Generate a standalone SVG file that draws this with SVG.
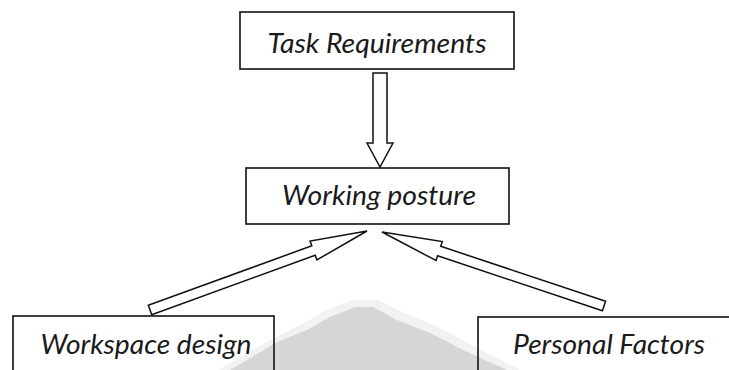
<svg xmlns="http://www.w3.org/2000/svg" width="729" height="370" viewBox="0 0 729 370">
<style>
.box{fill:none;stroke:#111;stroke-width:1.6}
.lbl{font-family:Lato,"Open Sans","Liberation Sans",sans-serif;font-style:italic;font-size:27px;fill:#1a1a1a;text-anchor:middle}
.arr{fill:#fff;stroke:#111;stroke-width:1.5;stroke-linejoin:miter}
</style>
<rect width="729" height="370" fill="#fff"/>
<g id="watermark">
<polygon points="218,370 270,340 302,324 328,309 352,300 378,300 402,312 436,326 470,344 520,370" fill="#f2f2f2"/>
<polygon points="230,370 277,342 307,330 330,317 355,307 373,307 397,320 430,333 463,350 507,370" fill="#d6d6d6"/>
</g>
<g id="connectors">
<polygon class="arr" points="373,73 387,73 387,143 393,143 380,167 367,143 373,143"/>
<polygon class="arr" points="148.3,305.3 311.8,245.8 310.1,241.1 367,231 316.9,259.9 315.2,255.2 151.7,314.7"/>
<polygon class="arr" points="605.6,301.3 440.7,246.3 442.3,241.5 382,232 436,260.5 437.6,255.8 602.4,310.7"/>
</g>
<g id="task">
<rect class="box" x="240" y="12" width="274" height="57"/>
<text class="lbl" x="377" y="53" textLength="219" lengthAdjust="spacingAndGlyphs">Task Requirements</text>
</g>
<g id="posture">
<rect class="box" x="246" y="168" width="263" height="56"/>
<text class="lbl" x="379" y="205" textLength="194" lengthAdjust="spacingAndGlyphs">Working posture</text>
</g>
<g id="workspace">
<rect class="box" x="13" y="316" width="261" height="70"/>
<text class="lbl" x="146" y="354" textLength="211" lengthAdjust="spacingAndGlyphs">Workspace design</text>
</g>
<g id="personal">
<rect class="box" x="478" y="317" width="270" height="70"/>
<text class="lbl" x="609" y="354" textLength="192" lengthAdjust="spacingAndGlyphs">Personal Factors</text>
</g>
</svg>
